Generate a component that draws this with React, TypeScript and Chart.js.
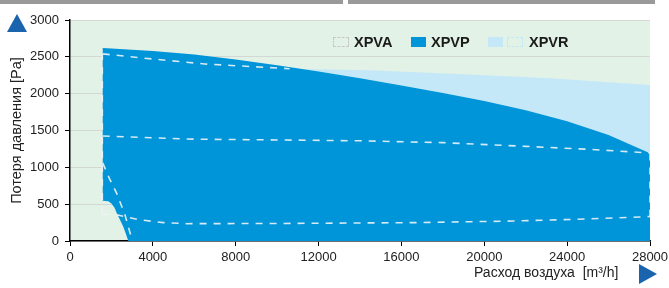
import { useEffect, useRef } from 'react';
import { Chart, registerables } from 'chart.js';

Chart.register(...registerables);

const seriesNames = ['XPVA', 'XPVP', 'XPVR'];
const xTicks = [0, 4000, 8000, 12000, 16000, 20000, 24000, 28000];
const yTicks = [0, 500, 1000, 1500, 2000, 2500, 3000];

// XPVP (dark blue) envelope
const xpvpTopFlow = [1580, 2000, 4000, 6000, 8000, 10000, 12000, 14000, 16000, 18000, 20000, 22000, 24000, 26000, 28000];
const xpvpTopPressure = [2620, 2614, 2580, 2530, 2465, 2385, 2300, 2210, 2112, 2010, 1900, 1775, 1625, 1440, 1190];
const xpvpBottomFlow = [28000, 2815, 2700, 2573, 2400, 2254, 2150, 2000, 1850, 1580];
const xpvpBottomPressure = [0, 0, 95, 194, 295, 380, 450, 510, 540, 545];

// XPVR (light blue) upper limit
const xpvrTopFlow = [1580, 6500, 10600, 14500, 19000, 23200, 28000];
const xpvrTopPressure = [2540, 2403, 2339, 2318, 2265, 2208, 2118];

// XPVA dashed outlines
const xpvaTopFlow = [1580, 4000, 6500, 10600];
const xpvaTopPressure = [2540, 2470, 2403, 2339];
const midFlow = [1580, 6000, 10000, 14000, 18000, 22000, 25000, 28000];
const midPressure = [1425, 1382, 1372, 1360, 1335, 1285, 1245, 1195];
const lowFlow = [1560, 2300, 3300, 4500, 5650, 10000, 16500, 21400, 24500, 27500, 28000];
const lowPressure = [365, 352, 290, 250, 235, 238, 249, 271, 295, 326, 332];
const diagFlow = [1580, 1900, 2254, 2655, 3010];
const diagPressure = [1060, 850, 647, 353, 0];
const leftEdgeFlow = [1560, 1560];
const leftEdgePressure = [365, 2540];
const rightEdgeFlow = [28000, 28000];
const rightEdgePressure = [332, 1195];

const DARK = '#0095d9';
const LIGHT = '#c5e8f8';
const GREEN = '#e3f2e6';
const DASH = 'rgba(236,244,248,0.9)';
const TRI = '#1a64ad';

const pts = (f: number[], p: number[]) => f.map((x, i) => ({ x, y: p[i] }));

const dashed = (f: number[], p: number[]) => ({
  data: pts(f, p),
  borderColor: DASH,
  borderWidth: 1.6,
  borderDash: [7, 7],
  pointRadius: 0,
  fill: false,
  tension: 0,
});

export default function App() {
  const ref = useRef<HTMLCanvasElement | null>(null);

  useEffect(() => {
    document.body.style.margin = '0';
    const canvas = ref.current;
    if (!canvas) return;
    Chart.defaults.font.family = '"Liberation Sans", Arial, sans-serif';

    const bgPlugin = {
      id: 'bg',
      beforeDraw(chart: any) {
        const { ctx, chartArea } = chart;
        ctx.save();
        ctx.fillStyle = GREEN;
        ctx.fillRect(chartArea.left, chartArea.top, chartArea.right - chartArea.left, chartArea.bottom - chartArea.top);
        ctx.restore();
      },
    };

    const chart = new Chart(canvas, {
      type: 'line',
      data: {
        datasets: [
          dashed(xpvaTopFlow, xpvaTopPressure),
          dashed(midFlow, midPressure),
          dashed(lowFlow, lowPressure),
          dashed(diagFlow, diagPressure),
          dashed(leftEdgeFlow, leftEdgePressure),
          dashed(rightEdgeFlow, rightEdgePressure),
          {
            label: seriesNames[1],
            data: [...pts(xpvpTopFlow, xpvpTopPressure), ...pts(xpvpBottomFlow, xpvpBottomPressure)],
            backgroundColor: DARK,
            borderColor: DARK,
            borderWidth: 0,
            pointRadius: 0,
            fill: 'shape',
            tension: 0,
          },
          {
            label: seriesNames[2],
            data: [...pts(xpvrTopFlow, xpvrTopPressure), ...pts([...midFlow].reverse(), [...midPressure].reverse())],
            backgroundColor: LIGHT,
            borderColor: LIGHT,
            borderWidth: 0,
            pointRadius: 0,
            fill: 'shape',
            tension: 0,
          },
        ] as any,
      },
      options: {
        animation: false,
        responsive: true,
        maintainAspectRatio: false,
        layout: { padding: { left: 0, right: 19, top: 20, bottom: 0 } },
        plugins: { legend: { display: false }, tooltip: { enabled: false } },
        scales: {
          x: {
            type: 'linear',
            min: 0,
            max: 28000,
            afterBuildTicks: (s: any) => {
              s.ticks = xTicks.map((v) => ({ value: v }));
            },
            afterFit: (s: any) => {
              s.height = 47;
              s.paddingLeft = 0;
              s.paddingRight = 0;
            },
            ticks: {
              callback: (v: any) => String(v),
              color: '#222',
              font: { size: 13 },
              padding: 4,
              maxRotation: 0,
              autoSkip: false,
            },
            grid: { drawOnChartArea: false, drawTicks: true, tickLength: 5, tickColor: '#000' },
            border: { color: '#000', width: 1.5 },
          },
          y: {
            type: 'linear',
            min: 0,
            max: 3000,
            afterBuildTicks: (s: any) => {
              s.ticks = yTicks.map((v) => ({ value: v }));
            },
            afterFit: (s: any) => {
              s.width = 70;
              s.paddingTop = 0;
              s.paddingBottom = 0;
            },
            ticks: {
              callback: (v: any) => String(v),
              color: '#222',
              font: { size: 13 },
              padding: 6,
              autoSkip: false,
            },
            grid: { color: 'rgba(205,205,205,0.7)', drawTicks: true, tickLength: 5, tickColor: '#000' },
            border: { color: '#000', width: 1.5 },
            title: {
              display: true,
              text: 'Потеря давления [Pa]',
              color: '#222',
              font: { size: 14.5 },
              padding: { top: 8, bottom: 0 },
            },
          },
        },
      } as any,
      plugins: [bgPlugin],
    });
    return () => chart.destroy();
  }, []);

  const txt = {
    position: 'absolute' as const,
    fontFamily: '"Liberation Sans", Arial, sans-serif',
    fontWeight: 'bold' as const,
    fontSize: 14.5,
    color: '#1a1a1a',
    top: 34,
    lineHeight: '16px',
  };

  return (
    <div style={{ position: 'relative', width: 669, height: 288, overflow: 'hidden', background: '#fff' }}>
      <canvas ref={ref} style={{ position: 'absolute', left: 0, top: 0 }} />
      <div style={{ position: 'absolute', left: 0, top: 0, width: 343, height: 4, background: '#9a9a9a' }} />
      <div style={{ position: 'absolute', left: 348, top: 0, width: 307, height: 4, background: '#9a9a9a' }} />
      <div
        style={{
          position: 'absolute', left: 7, top: 14, width: 0, height: 0,
          borderLeft: '10px solid transparent', borderRight: '10px solid transparent',
          borderBottom: `18px solid ${TRI}`,
        }}
      />
      <div
        style={{
          position: 'absolute', left: 639, top: 264, width: 0, height: 0,
          borderTop: '10.5px solid transparent', borderBottom: '10.5px solid transparent',
          borderLeft: `18px solid ${TRI}`,
        }}
      />
      <div
        style={{
          position: 'absolute', left: 474, top: 264, fontFamily: '"Liberation Sans", Arial, sans-serif',
          fontSize: 14, color: '#222', whiteSpace: 'pre', lineHeight: '16px',
        }}
      >
        {'Расход воздуха  [m³/h]'}
      </div>
      {/* legend */}
      <div style={{ position: 'absolute', left: 333, top: 37, width: 14, height: 8, border: '1px dashed #c8c8c8' }} />
      <div style={{ ...txt, left: 354 }}>{seriesNames[0]}</div>
      <div style={{ position: 'absolute', left: 411, top: 37, width: 15, height: 10, background: DARK }} />
      <div style={{ ...txt, left: 431 }}>{seriesNames[1]}</div>
      <div style={{ position: 'absolute', left: 488, top: 37, width: 15, height: 10, background: LIGHT }} />
      <div style={{ position: 'absolute', left: 507, top: 37, width: 14, height: 8, border: `1px dashed ${LIGHT}` }} />
      <div style={{ ...txt, left: 529 }}>{seriesNames[2]}</div>
    </div>
  );
}
